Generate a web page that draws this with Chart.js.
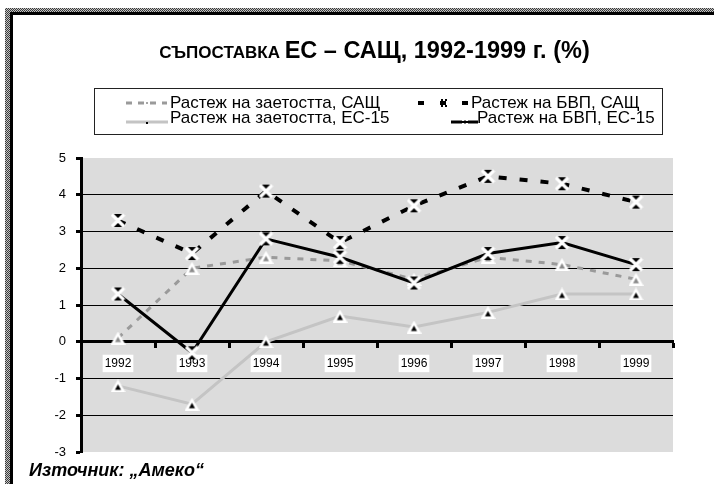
<!DOCTYPE html>
<html>
<head>
<meta charset="utf-8">
<script src="https://cdn.jsdelivr.net/npm/chart.js@4"></script>
<style>
  html, body { margin: 0; padding: 0; background: #fff; }
  body { width: 714px; height: 484px; position: relative; overflow: hidden; font-family: Arial, "Liberation Sans", sans-serif; }
  #chart { position: absolute; left: 0; top: 0; }
  .tex { position: absolute; background: repeating-conic-gradient(#3a3a3a 0% 25%, #c4c4c4 0% 50%) 0 0 / 2px 2px; }
  .blk { position: absolute; background: #000; }
  #title { position: absolute; left: 0; width: 749px; top: 37px; text-align: center; font-weight: bold; color: #000; white-space: nowrap; }
  #title .sc { font-size: 17px; }
  #title .big { font-size: 23.5px; }
  #legend { position: absolute; left: 94px; top: 88px; width: 567px; height: 45px; border: 1px solid #222; }
  .lg-item { position: absolute; font-size: 17px; color: #000; white-space: nowrap; line-height: 15px; }
  .lg-sample { position: absolute; }
  #source { position: absolute; left: 29px; top: 460px; font-size: 18px; font-weight: bold; font-style: italic; color: #000; }
</style>
</head>
<body>
<div class="tex" style="left:5px;top:8px;width:709px;height:4px"></div>
<div class="tex" style="left:5px;top:8px;width:5px;height:476px"></div>
<div class="blk" style="left:10px;top:12px;width:704px;height:3px"></div>
<div class="blk" style="left:10px;top:12px;width:3px;height:472px"></div>

<canvas id="chart" width="714" height="484"></canvas>

<div id="title"><span class="sc">СЪПОСТАВКА </span><span class="big">ЕС – САЩ, 1992-1999 г. (%)</span></div>
<div id="legend"></div>
<div id="source">Източник: „Амеко“</div>

<script>
// Chart data
const years = ['1992', '1993', '1994', '1995', '1996', '1997', '1998', '1999'];
const seriesNames = [
    'Растеж на заетостта, САЩ',
    'Растеж на БВП, САЩ',
    'Растеж на заетостта, ЕС-15',
    'Растеж на БВП, ЕС-15'
];
const usEmployment = [0.1, 2.0, 2.3, 2.2, 1.7, 2.3, 2.1, 1.7];
const usGdp = [3.3, 2.4, 4.1, 2.7, 3.7, 4.5, 4.3, 3.8];
const euEmployment = [-1.2, -1.7, 0.0, 0.7, 0.4, 0.8, 1.3, 1.3];
const euGdp = [1.3, -0.3, 2.8, 2.3, 1.6, 2.4, 2.7, 2.1];
const yMin = -3;
const yMax = 5;

const FONT = 'Arial, "Liberation Sans", sans-serif';

// marker images
function triangleMarker(inner) {
    const c = document.createElement('canvas');
    c.width = 15; c.height = 13;
    const g = c.getContext('2d');
    g.fillStyle = '#fff';
    g.beginPath(); g.moveTo(7.5, 0); g.lineTo(15, 13); g.lineTo(0, 13); g.closePath(); g.fill();
    g.fillStyle = inner;
    g.beginPath(); g.moveTo(7.5, 5); g.lineTo(10.5, 10.5); g.lineTo(4.5, 10.5); g.closePath(); g.fill();
    return c;
}

function crossMarker() {
    const c = document.createElement('canvas');
    c.width = 15; c.height = 15;
    const g = c.getContext('2d');
    g.fillStyle = '#000';
    g.beginPath(); g.moveTo(2, 1); g.lineTo(13, 1); g.lineTo(7.5, 7.5); g.closePath(); g.fill();
    g.beginPath(); g.moveTo(2, 14); g.lineTo(13, 14); g.lineTo(7.5, 7.5); g.closePath(); g.fill();
    g.strokeStyle = '#fff';
    g.lineWidth = 3.2;
    g.beginPath();
    g.moveTo(1.5, 1.5); g.lineTo(13.5, 13.5);
    g.moveTo(13.5, 1.5); g.lineTo(1.5, 13.5);
    g.stroke();
    return c;
}

const plotBackground = {
    id: 'plotBackground',
    beforeDraw(chart) {
        const a = chart.chartArea;
        const ctx = chart.ctx;
        ctx.save();
        ctx.fillStyle = '#dcdcdc';
        ctx.fillRect(a.left, a.top, a.right - a.left, a.bottom - a.top);
        ctx.restore();
    }
};

const datasets = [
    {
        label: seriesNames[0], data: usEmployment,
        borderColor: '#9a9a9a', borderWidth: 3, borderDash: [6, 7],
        pointStyle: triangleMarker('#8a8a8a'), order: 3
    },
    {
        label: seriesNames[1], data: usGdp,
        borderColor: '#000', borderWidth: 4, borderDash: [8, 13],
        pointStyle: crossMarker(), order: 1
    },
    {
        label: seriesNames[2], data: euEmployment,
        borderColor: '#c4c4c4', borderWidth: 3,
        pointStyle: triangleMarker('#000'), order: 4
    },
    {
        label: seriesNames[3], data: euGdp,
        borderColor: '#000', borderWidth: 3,
        pointStyle: crossMarker(), order: 2
    }
];
datasets.forEach(d => {
    d.tension = 0;
    d.fill = false;
    d.pointRadius = 6;
});

new Chart(document.getElementById('chart').getContext('2d'), {
    type: 'line',
    data: { labels: years, datasets: datasets },
    options: {
        responsive: false,
        animation: false,
        layout: { padding: { left: 31, top: 158, right: 41, bottom: 32 } },
        plugins: {
            legend: { display: false },
            tooltip: { enabled: false }
        },
        scales: {
            x: {
                position: { y: 0 },
                offset: true,
                grid: {
                    offset: true,
                    drawOnChartArea: false,
                    tickLength: 5,
                    tickWidth: 3,
                    tickColor: '#000'
                },
                border: { color: '#000', width: 3 },
                ticks: {
                    color: '#000',
                    font: { family: FONT, size: 12 },
                    padding: 10,
                    maxRotation: 0,
                    showLabelBackdrop: true,
                    backdropColor: '#fff',
                    backdropPadding: { top: 2, bottom: 1, left: 2, right: 2 }
                }
            },
            y: {
                min: yMin,
                max: yMax,
                afterFit: s => { s.width = 50; },
                grid: {
                    color: c => (c.tick && (c.tick.value === yMax || c.tick.value === yMin)) ? 'rgba(0,0,0,0)' : '#000',
                    lineWidth: 1,
                    tickLength: 5,
                    tickWidth: 3,
                    tickColor: '#000'
                },
                border: { color: '#000', width: 3 },
                ticks: {
                    stepSize: 1,
                    color: '#000',
                    font: { family: FONT, size: 13 },
                    padding: 10
                }
            }
        }
    },
    plugins: [plotBackground]
});

// legend (Excel-style box with line samples)
const legendLayout = [
    { sy: 14, ty: 6, sx: 31, sw: 41, text: 75 },
    { sy: 14, ty: 6, sx: 323, sw: 52, text: 376 },
    { sy: 33, ty: 21, sx: 31, sw: 42, text: 75 },
    { sy: 33, ty: 21, sx: 356, sw: 27, text: 382 }
];
const legendSamples = [
    '<line x1="0" y1="6" x2="W" y2="6" stroke="#9a9a9a" stroke-width="3" stroke-dasharray="6 6"/><circle cx="H" cy="6" r="1" fill="#888"/>',
    '<line x1="0" y1="6" x2="W" y2="6" stroke="#000" stroke-width="4" stroke-dasharray="6 16"/><g fill="#000"><rect x="Hm3" y="2" width="2" height="2"/><rect x="Hp1" y="2" width="2" height="2"/><rect x="Hm1" y="5" width="2" height="2"/><rect x="Hm3" y="8" width="2" height="2"/><rect x="Hp1" y="8" width="2" height="2"/></g>',
    '<line x1="0" y1="6" x2="W" y2="6" stroke="#c4c4c4" stroke-width="3"/><rect x="Hm1" y="6" width="2" height="2" fill="#000"/>',
    '<line x1="0" y1="6" x2="W" y2="6" stroke="#000" stroke-width="3"/><g fill="#fff"><rect x="Hm3" y="3" width="2" height="2"/><rect x="Hp1" y="3" width="2" height="2"/><rect x="Hm3" y="7" width="2" height="2"/><rect x="Hp1" y="7" width="2" height="2"/></g>'
];
const legendEl = document.getElementById('legend');
seriesNames.forEach((name, i) => {
    const L = legendLayout[i];
    const h = Math.round(L.sw / 2);
    const svg = legendSamples[i]
        .replace(/W/g, L.sw).replace(/Hm3/g, h - 3).replace(/Hp1/g, h + 1)
        .replace(/Hm1/g, h - 1).replace(/"H"/g, '"' + h + '"');
    legendEl.insertAdjacentHTML('beforeend',
        `<svg class="lg-sample" style="left:${L.sx}px;top:${L.sy - 6}px" width="${L.sw}" height="12">${svg}</svg>` +
        `<div class="lg-item" style="left:${L.text}px;top:${L.ty}px">${name}</div>`);
});
</script>
</body>
</html>
